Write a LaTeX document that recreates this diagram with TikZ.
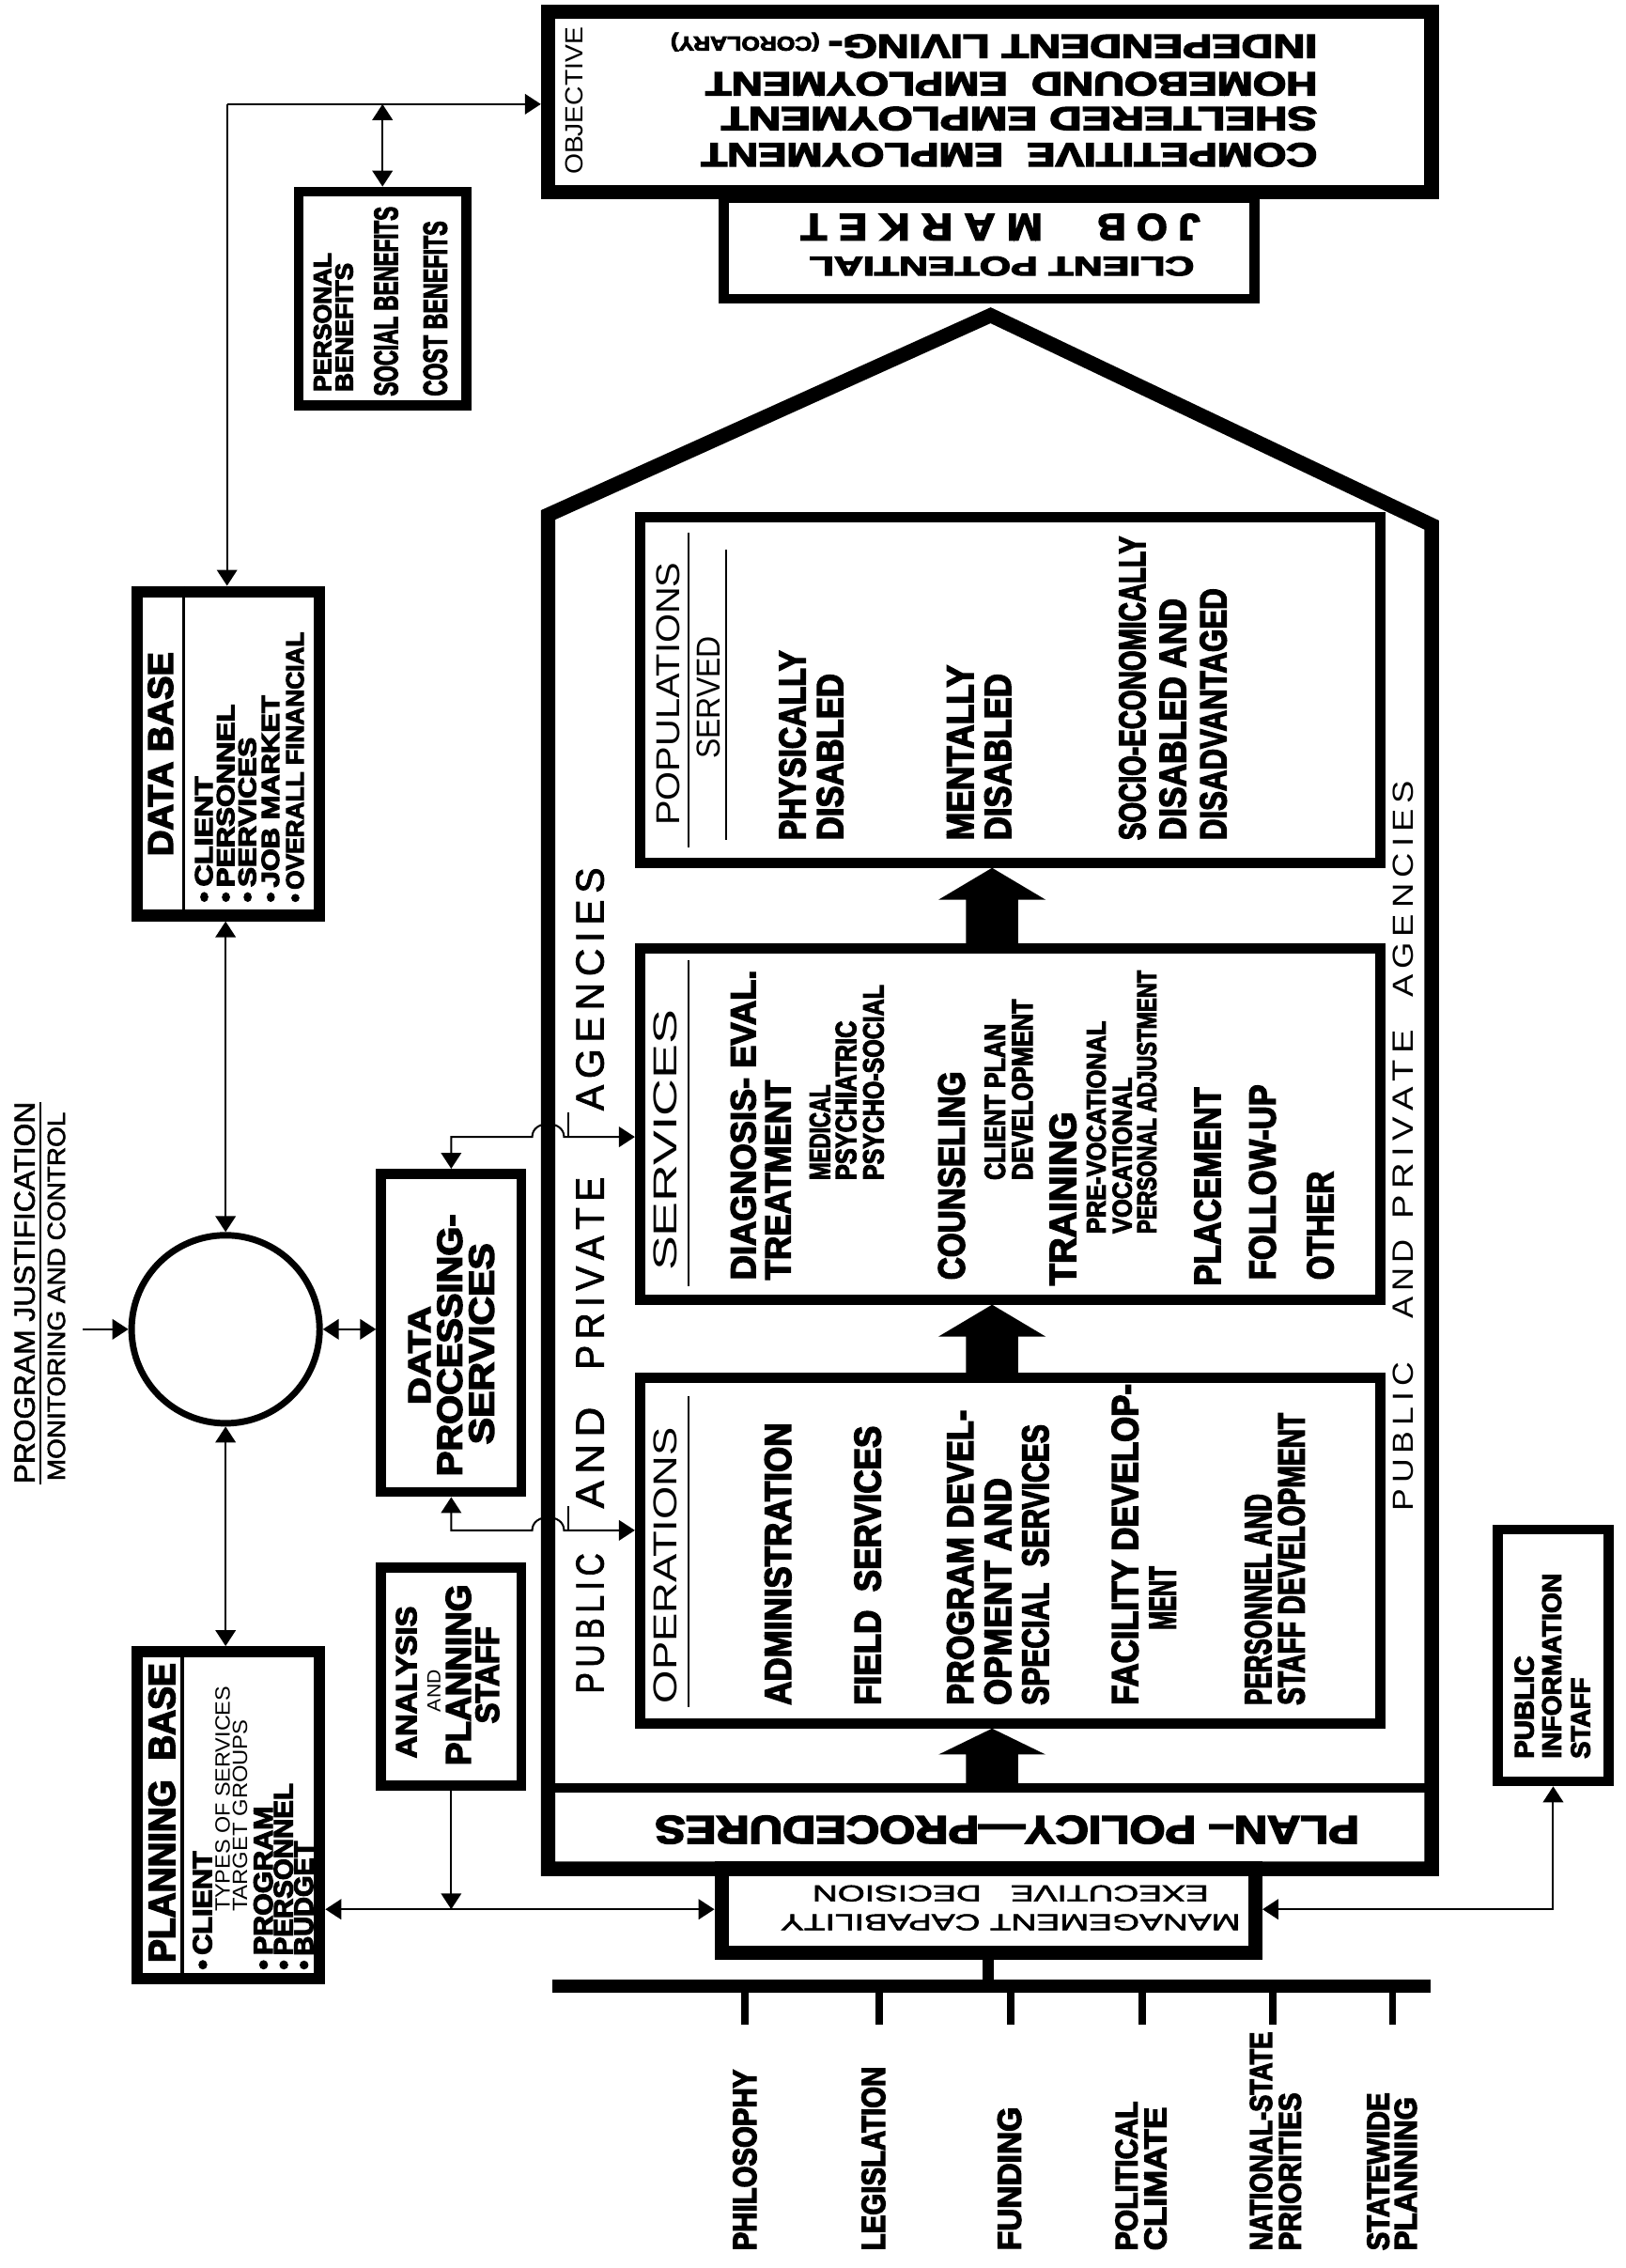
\documentclass[tikz,border=0pt]{standalone}
\usepackage{fontspec}
\setmainfont{Liberation Sans}
\newfontfamily\hv{Liberation Sans}[BoldFeatures={FakeBold=4}]
\newfontfamily\md{Liberation Sans}[FakeBold=2]
\usepackage{graphicx}
\usetikzlibrary{arrows.meta,calc}
\newcommand\fb[3]{\resizebox{#1pt}{#2pt}{\hv\bfseries #3}}
\newcommand\fr[3]{\resizebox{#1pt}{#2pt}{#3}}
\newcommand\fm[3]{\resizebox{#1pt}{#2pt}{\md #3}}
\newcommand\blk[3]{\fill ($(#1)+(-18,0)$) -- ($(#2)+(-18,#3)$) -- ($(#2)+(-37,#3)$) -- (#2) -- ($(#2)+(37,#3)$) -- ($(#2)+(18,#3)$) -- ($(#1)+(18,0)$) -- cycle;}
\begin{document}
\begin{tikzpicture}[x=1pt,y=-1pt,
 rt/.style={rotate=90,anchor=west,inner sep=0pt},
 rc/.style={rotate=90,anchor=center,inner sep=0pt},
 ut/.style={rotate=180,anchor=west,inner sep=0pt},
 bx/.style={draw,inner sep=0pt,line width=#1},
 conn/.style={line width=1.3pt},
 >={Triangle[length=11pt,width=14pt]}]
\fill[white] (0,0) rectangle (1124,1568);
\useasboundingbox (0,0) rectangle (1124,1568);

% ---------- boxes ----------
\node[bx=10pt,minimum width=611pt,minimum height=125pt] (obj) at (684.5,70.5) {};
\node[bx=7pt,minimum width=367pt,minimum height=70pt] (job) at (684,171.5) {};
\coordinate (apex) at (685,218);
\draw[line width=10pt,line join=miter] (379,1292) -- (379,356) -- (apex) -- (990,363) -- (990,1292) -- cycle;
\draw[line width=7pt] (379,1236) -- (990,1236);
\node[inner sep=0pt,minimum width=600pt,minimum height=54pt] (band) at (684.5,1264) {};
\node[bx=7pt,minimum width=512pt,minimum height=239pt] (pop) at (698.5,477) {};
\node[bx=7pt,minimum width=512pt,minimum height=243pt] (serv) at (698.5,777) {};
\node[bx=7pt,minimum width=512pt,minimum height=239pt] (ops) at (698.5,1072) {};
\node[bx=10pt,minimum width=369pt,minimum height=58pt] (mgmt) at (683.5,1321) {};
\node[bx=8pt,minimum width=126pt,minimum height=224pt] (db) at (158,521) {};
\node[draw,circle,line width=4.5pt,minimum size=130pt,inner sep=0pt] (circ) at (156,919) {};
\node[bx=7pt,minimum width=97pt,minimum height=220pt] (dp) at (312,921.5) {};
\node[bx=7pt,minimum width=97pt,minimum height=151pt] (ana) at (312,1159) {};
\node[bx=8pt,minimum width=126pt,minimum height=226pt] (plan) at (158,1255) {};
\node[bx=7pt,minimum width=116pt,minimum height=148pt] (ben) at (264.5,206.5) {};
\node[bx=7pt,minimum width=77pt,minimum height=174pt] (pub) at (1074,1144.5) {};

% ---------- block arrows ----------
\coordinate (axis) at (686,0);
\coordinate (b1s) at (band.north -| axis); \coordinate (b1e) at (ops.south -| axis);
\coordinate (b2s) at (ops.north -| axis);  \coordinate (b2e) at (serv.south -| axis);
\coordinate (b3s) at (serv.north -| axis); \coordinate (b3e) at (pop.south -| axis);
\blk{b1s}{b1e}{18}
\blk{b2s}{b2e}{22}
\blk{b3s}{b3e}{22}

% ---------- connectors ----------
\coordinate (tl) at (157,72);
\draw[conn,->] (tl) -- (tl -| obj.west);
\draw[conn,->] (tl) -- (tl |- db.north);
\draw[conn,<->] (ben.north |- tl) -- (ben.north);
\draw[conn,<->] (circ.north |- db.south) -- (circ.north);
\draw[conn,<->] (circ.south) -- (circ.south |- plan.north);
\coordinate (pj) at (57,919);
\draw[conn,->] (pj) -- (circ.west);
\draw[conn,<->] (circ.east) -- (circ.east -| dp.west);
\coordinate (hu) at (312,786);
\draw[conn,<->] (dp.north) -- (hu) -- (368,786) .. controls (368,774) and (390,774) .. (390,786) -- (hu -| serv.west);
\draw[conn] (393,786) -- (393,769);
\coordinate (hl) at (312,1058);
\draw[conn,<->] (dp.south) -- (hl) -- (368,1058) .. controls (368,1046) and (390,1046) .. (390,1058) -- (hl -| ops.west);
\draw[conn] (393,1058) -- (393,1041);
\coordinate (ml) at (0,1320);
\draw[conn,->] (ana.south) -- (ana.south |- ml);
\draw[conn,<->] (ml -| plan.east) -- (ml -| mgmt.west);
\draw[conn,<->] (ml -| mgmt.east) -- (ml -| pub.south) -- (pub.south);
\coordinate (barL) at (382,1373); \coordinate (barR) at (989,1373);
\draw[line width=9pt] (barL) -- (barR);
\draw[line width=8pt] (mgmt.south) -- (mgmt.south |- barL);
\foreach \x in {515,608,699,790,880,963} \draw[line width=5pt] (\x,1373) -- (\x,1400);
\draw[conn] (28,762) -- (28,1026);
\draw[line width=2pt] (db.north -| 127,0) -- (db.south -| 127,0);
\draw[line width=2pt] (plan.north -| 126,0) -- (plan.south -| 126,0);
\draw[conn] (476,368) -- (476,586);
\draw[conn] (502,380) -- (502,581);
\draw[conn] (476,664) -- (476,889);
\draw[conn] (476,965) -- (476,1180);

% ---------- objective ----------
\node[rt] (objl) at (397,121) {\fr{102}{12}{OBJECTIVE}};
\node[ut] (o1) at (911,107) {\fb{426}{16}{COMPETITIVE\ \ EMPLOYMENT}};
\node[ut] (o2) at (911,82) {\fb{412}{16}{SHELTERED EMPLOYMENT}};
\node[ut] (o3) at (911,58) {\fb{423}{16}{HOMEBOUND\ \ EMPLOYMENT}};
\node[ut] (o4) at (911,32) {\fb{338}{16}{INDEPENDENT LIVING-}};
\node[ut] (o5) at (567,29) {\fb{103}{10}{(COROLARY)}};
% ---------- job market ----------
\node[ut] (j1) at (826,184) {\fb{266}{13}{CLIENT POTENTIAL}};
\node[ut] (j2) at (830,157) {\fb{71}{18}{J\ O\ B}};
\node[ut] (j3) at (721,157) {\fb{167}{18}{M\ A\ R\ K\ E\ T}};
% ---------- agencies ----------
\node[rt] (pa1) at (408,1171) {\fm{97}{19}{P\,U\,B\,L\,I\,C}};
\node[rt] (pa2) at (408,1043) {\fm{70}{19}{A\,N\,D}};
\node[rt] (pa3) at (408,947) {\fm{133}{19}{P\,R\,I\,V\,A\,T\,E}};
\node[rt] (pa4) at (408,768) {\fm{168}{19}{A\,G\,E\,N\,C\,I\,E\,S}};
\node[rt] (pb1) at (970,1045) {\fr{103}{14}{P\,U\,B\,L\,I\,C}};
\node[rt] (pb2) at (970,912) {\fr{55}{14}{A\,N\,D}};
\node[rt] (pb3) at (970,843) {\fr{131}{14}{P\,R\,I\,V\,A\,T\,E}};
\node[rt] (pb4) at (970,690) {\fr{150}{14}{A\,G\,E\,N\,C\,I\,E\,S}};
% ---------- populations ----------
\node[rt] (popt) at (462,571) {\fr{182}{16}{POPULATIONS}};
\node[rt] (sert) at (490,525) {\fr{85}{16}{SERVED}};
\node[rt] (p1) at (548,581) {\fb{131}{18}{PHYSICALLY}};
\node[rt] (p2) at (574,581) {\fb{115}{18}{DISABLED}};
\node[rt] (p3) at (664,581) {\fb{121}{18}{MENTALLY}};
\node[rt] (p4) at (690,581) {\fb{115}{18}{DISABLED}};
\node[rt] (p5) at (783,581) {\fb{210}{18}{SOCIO-ECONOMICALLY}};
\node[rt] (p6) at (811,581) {\fb{167}{18}{DISABLED AND}};
\node[rt] (p7) at (839,581) {\fb{174}{18}{DISADVANTAGED}};
% ---------- services ----------
\node[rt] (sv0) at (460,879) {\fr{181}{16}{SERVICES}};
\node[rt] (sv1) at (514,885) {\fb{214}{17}{DIAGNOSIS-\ EVAL.}};
\node[rt] (sv2) at (538,885) {\fb{138}{17}{TREATMENT}};
\node[rt] (sv3) at (567,816) {\fb{66}{14}{MEDICAL}};
\node[rt] (sv4) at (585,816) {\fb{110}{14}{PSYCHIATRIC}};
\node[rt] (sv5) at (604,816) {\fb{135}{14}{PSYCHO-SOCIAL}};
\node[rt] (sv6) at (658,885) {\fb{144}{18}{COUNSELING}};
\node[rt] (sv7) at (688,816) {\fb{108}{14}{CLIENT PLAN}};
\node[rt] (sv8) at (707,816) {\fb{125}{14}{DEVELOPMENT}};
\node[rt] (sv9) at (735,889) {\fb{120}{18}{TRAINING}};
\node[rt] (sv10) at (758,853) {\fb{147}{13}{PRE-VOCATIONAL}};
\node[rt] (sv11) at (776,853) {\fb{108}{13}{VOCATIONAL}};
\node[rt] (sv12) at (793,853) {\fb{182}{13}{PERSONAL ADJUSTMENT}};
\node[rt] (sv13) at (835,889) {\fb{137}{18}{PLACEMENT}};
\node[rt] (sv14) at (873,885) {\fb{135}{18}{FOLLOW-UP}};
\node[rt] (sv15) at (913,885) {\fb{75}{18}{OTHER}};
% ---------- operations ----------
\node[rt] (op0) at (460,1178) {\fr{191}{16}{OPERATIONS}};
\node[rt] (op1) at (538,1179) {\fb{195}{18}{ADMINISTRATION}};
\node[rt] (op2) at (600,1179) {\fb{193}{18}{FIELD\ \ SERVICES}};
\node[rt] (op3) at (664,1179) {\fb{204}{18}{PROGRAM DEVEL-}};
\node[rt] (op4) at (690,1179) {\fb{157}{18}{OPMENT AND}};
\node[rt] (op5) at (716,1179) {\fb{194}{18}{SPECIAL\ \ SERVICES}};
\node[rt] (op6) at (778,1179) {\fb{222}{18}{FACILITY DEVELOP-}};
\node[rt] (op7) at (804,1127) {\fb{44}{18}{MENT}};
\node[rt] (op8) at (870,1179) {\fb{146}{18}{PERSONNEL AND}};
\node[rt] (op9) at (893,1179) {\fb{202}{18}{STAFF DEVELOPMENT}};
% ---------- plan band, management ----------
\node[ut] (pp) at (940,1265) {\fb{487}{19}{PLAN–\ POLICY—PROCEDURES}};
\node[ut] (m1) at (858,1329) {\fm{318}{11}{MANAGEMENT CAPABILITY}};
\node[ut] (m2) at (836,1309) {\fm{274}{11}{EXECUTIVE\ \ \ DECISION}};
% ---------- bottom labels ----------
\node[rt] (l1) at (515,1556) {\fb{125}{16}{PHILOSOPHY}};
\node[rt] (l2) at (604,1556) {\fb{127}{16}{LEGISLATION}};
\node[rt] (l3) at (698,1556) {\fb{99}{16}{FUNDING}};
\node[rt] (l4) at (779,1556) {\fb{103}{15}{POLITICAL}};
\node[rt] (l5) at (799,1556) {\fb{99}{15}{CLIMATE}};
\node[rt] (l6) at (872,1556) {\fb{151}{15}{NATIONAL-STATE}};
\node[rt] (l7) at (892,1556) {\fb{109}{15}{PRIORITIES}};
\node[rt] (l8) at (953,1556) {\fb{109}{15}{STATEWIDE}};
\node[rt] (l9) at (972,1556) {\fb{106}{15}{PLANNING}};
% ---------- data processing, analysis ----------
\node[rc] (d1) at (290,937) {\fb{68}{15}{DATA}};
\node[rc] (d2) at (311,930) {\fb{181}{17}{PROCESSING-}};
\node[rc] (d3) at (333,929) {\fb{139}{17}{SERVICES}};
\node[rc] (a1) at (281,1163) {\fb{105}{14}{ANALYSIS}};
\node[rc] (a2) at (300,1169) {\fr{29}{9}{AND}};
\node[rc] (a3) at (317,1158) {\fb{125}{17}{PLANNING}};
\node[rc] (a4) at (337,1158) {\fb{67}{16}{STAFF}};
% ---------- benefits ----------
\node[rt] (bf1) at (223,271) {\fb{96}{12}{PERSONAL}};
\node[rt] (bf2) at (238,271) {\fb{89}{12}{BENEFITS}};
\node[rt] (bf3) at (267,274) {\fb{131}{16}{SOCIAL BENEFITS}};
\node[rt] (bf4) at (301,274) {\fb{121}{16}{COST BENEFITS}};
% ---------- data base ----------
\node[rt] (dbt) at (111,592) {\fb{141}{17}{DATA BASE}};
\node[rt] (db1) at (141,624) {\fb{87}{12}{•\,CLIENT}};
\node[rt] (db2) at (156,624) {\fb{137}{12}{•\,PERSONNEL}};
\node[rt] (db3) at (171,624) {\fb{114}{12}{•\,SERVICES}};
\node[rt] (db4) at (187,624) {\fb{143}{12}{•\,JOB MARKET}};
\node[rt] (db5) at (204,624) {\fb{187}{12}{•\,OVERALL FINANCIAL}};
% ---------- planning base ----------
\node[rt] (plt) at (112,1357) {\fb{207}{18}{PLANNING\ \ BASE}};
\node[rt] (pl1) at (140,1362) {\fb{82}{13}{•\,CLIENT}};
\node[rt] (pl2) at (154,1322) {\fr{156}{10}{TYPES OF SERVICES}};
\node[rt] (pl3) at (166,1322) {\fr{133}{10}{TARGET GROUPS}};
\node[rt] (pl4) at (182,1362) {\fb{113}{13}{•\,PROGRAM}};
\node[rt] (pl5) at (196,1362) {\fb{129}{13}{•\,PERSONNEL}};
\node[rt] (pl6) at (210,1362) {\fb{89}{13}{•\,BUDGET}};
% ---------- program justification ----------
\node[rt] (pj1) at (17,1026) {\fm{264}{14}{PROGRAM JUSTIFICATION}};
\node[rt] (pj2) at (39,1024) {\fm{255}{12}{MONITORING AND CONTROL}};
% ---------- public information ----------
\node[rt] (pi1) at (1054,1216) {\fb{71}{13}{PUBLIC}};
\node[rt] (pi2) at (1073,1216) {\fb{128}{13}{INFORMATION}};
\node[rt] (pi3) at (1093,1216) {\fb{56}{13}{STAFF}};
\end{tikzpicture}
\end{document}
